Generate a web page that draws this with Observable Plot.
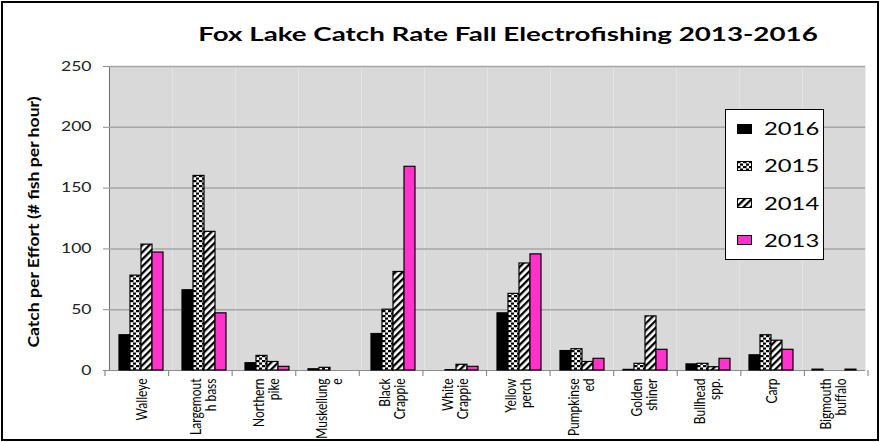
<!DOCTYPE html>
<html>
<head>
<meta charset="utf-8">
<script src="https://cdn.jsdelivr.net/npm/d3@7"></script>
<script src="https://cdn.jsdelivr.net/npm/@observablehq/plot@0.6"></script>
<style>
  body { margin: 0; background: #fff; width: 880px; height: 442px; overflow: hidden; position: relative; font-family: Lato, "Open Sans", sans-serif; }
  #frame { position: absolute; left: 1px; top: 1px; width: 878px; height: 440px; box-sizing: border-box; border: 2px solid #000; }
  #plot { position: absolute; left: 0; top: 0; }
  #title { position: absolute; left: 508px; top: 24px; white-space: nowrap; font: bold 19px Lato, sans-serif; line-height: 19px; transform: translateX(-50%) scaleX(1.46); color: #000; }
  #ytitle { position: absolute; left: 33px; top: 222px; white-space: nowrap; font: bold 16px Lato, sans-serif; line-height: 16px; transform: translate(-50%, -50%) rotate(-90deg) scaleX(1.1); color: #000; }
  #legend { position: absolute; left: 725px; top: 109px; width: 99px; height: 151px; box-sizing: border-box; border: 1px solid #000; background: #fff; display: flex; flex-direction: column; }
  #legend .row { flex: 1; display: flex; align-items: center; }
  #legend svg { margin-left: 11px; display: block; }
  #legend span { display: inline-block; margin-left: 12px; font: 17px Lato, sans-serif; line-height: 17px; transform: scaleX(1.4); transform-origin: left center; color: #000; }
  svg [aria-label^="y-axis"] line, svg [aria-label^="y-axis"] path { stroke: #8c8c8c; }
  svg [aria-label^="y-axis"] text { fill: #222; }
</style>
</head>
<body>
<svg width="0" height="0" style="position:absolute">
  <defs>
    <pattern id="pat2015" width="6" height="5" patternUnits="userSpaceOnUse">
      <rect width="6" height="5" fill="#fff"></rect>
      <rect x="0" y="0" width="3.5" height="2.2" fill="#000"></rect>
      <rect x="3" y="2.5" width="3.5" height="2.2" fill="#000"></rect>
    </pattern>
    <pattern id="pat2014" width="5" height="5" patternUnits="userSpaceOnUse" patternTransform="rotate(45)">
      <rect width="5" height="5" fill="#fff"></rect>
      <rect x="0" y="0" width="2.3" height="5" fill="#000"></rect>
    </pattern>
  </defs>
</svg>
<div id="frame"></div>
<div id="plot"></div>
<div id="title">Fox Lake Catch Rate Fall Electrofishing 2013-2016</div>
<div id="ytitle">Catch per Effort (# fish per hour)</div>
<div id="legend"></div>
<script>
// ---- data ----
const species = ["Walleye", "Largemouth bass", "Northern pike", "Muskellunge", "Black Crappie", "White Crappie", "Yellow perch", "Pumpkinseed", "Golden shiner", "Bullhead spp.", "Carp", "Bigmouth buffalo"];
const speciesLabels = ["Walleye", "Largemout\nh bass", "Northern\npike", "Muskellung\ne", "Black\nCrappie", "White\nCrappie", "Yellow\nperch", "Pumpkinse\ned", "Golden\nshiner", "Bullhead\nspp.", "Carp", "Bigmouth\nbuffalo"];
const years = ["2016", "2015", "2014", "2013"];
const cpe2016 = [29, 66, 6, 1, 30, 0, 47, 16, 0.5, 5, 12.5, 0.7];
const cpe2015 = [78, 160, 12, 2.2, 50, 0.3, 63, 17.5, 5.5, 5.5, 29, 0];
const cpe2014 = [103.5, 114, 7, 0, 81, 4.7, 88, 7, 44.5, 2.7, 24.5, 0];
const cpe2013 = [97, 47, 3, 0, 167.5, 3, 95.5, 9.6, 17, 9.6, 17, 0.7];
const yTicks = [0, 50, 100, 150, 200, 250];

// ---- styles ----
const yearFill = {"2016": "#000000", "2015": "url(#pat2015)", "2014": "url(#pat2014)", "2013": "#ff33cc"};

const series = {"2016": cpe2016, "2015": cpe2015, "2014": cpe2014, "2013": cpe2013};
const rows = years.flatMap(yr => species.map((s, i) => ({species: s, year: yr, value: series[yr][i]})));

const plot = Plot.plot({
  width: 880,
  height: 442,
  marginTop: 66,
  marginBottom: 72,
  marginLeft: 105,
  marginRight: 12,
  style: {background: "transparent", fontFamily: "Lato, sans-serif", fontSize: "13px", color: "#000"},
  facet: {data: rows, x: "species"},
  fx: {domain: species, padding: 0, axis: null},
  x: {domain: years, paddingInner: 0, paddingOuter: 0.76, axis: null},
  y: {domain: [0, 250], ticks: yTicks, tickSize: 6, tickPadding: 12, label: null, line: true},
  color: {type: "identity"},
  marks: [
    Plot.frame({fill: "#d9d9d9", stroke: "none"}),
    Plot.ruleY(yTicks.slice(1), {stroke: "#a6a6a6", strokeWidth: 1.5}),
    Plot.ruleY([0], {stroke: "#8c8c8c", strokeWidth: 1.2}),
    Plot.barY(rows, {filter: d => d.value > 0, x: "year", y: "value", fill: d => yearFill[d.year], stroke: "#000", strokeWidth: 1.2}),
    Plot.text(rows, {
      filter: d => d.year === years[0],
      text: d => speciesLabels[species.indexOf(d.species)],
      frameAnchor: "bottom", rotate: -90, textAnchor: "end", lineAnchor: "middle",
      lineHeight: 1.2, dy: 8, fontSize: 12, fill: "#000"
    })
  ]
});
document.getElementById("plot").append(plot);

// stretch y tick labels horizontally like the original
d3.select(plot).selectAll('[aria-label^="y-axis"] text').each(function() {
  const w = this.getComputedTextLength();
  if (w > 0) { this.setAttribute("textLength", w * 1.35); this.setAttribute("lengthAdjust", "spacingAndGlyphs"); }
});
// thicken rotated category labels across (glyph height on screen x), keeping line spacing
const labelSet = new Set(speciesLabels.map(s => s.replace("\n", "")));
d3.select(plot).selectAll("text").each(function() {
  if (!labelSet.has(this.textContent)) return;
  const t = this.getAttribute("transform") || "";
  if (!t.includes("rotate")) return;
  this.setAttribute("transform", t + " scale(1,1.3)");
  d3.select(this).selectAll("tspan").each(function() {
    const dy = this.getAttribute("dy");
    if (dy && dy.endsWith("em")) this.setAttribute("dy", (parseFloat(dy) / 1.3) + "em");
    const y = this.getAttribute("y");
    if (y && y.endsWith("em")) this.setAttribute("y", (parseFloat(y) / 1.3) + "em");
  });
});

// category boundary ticks below the axis, from the library's fx and y scales
const fx = plot.scale("fx");
const ys = plot.scale("y");
const n = fx.domain.length;
const r0 = fx.range[0], r1 = fx.range[1];
const step = (r1 - r0) / n;
const yb = ys.range[0];
const tg = d3.select(plot).append("g").attr("stroke", "#8c8c8c").attr("stroke-width", 1.2);
d3.range(n + 1).forEach(i => {
  const xx = r0 + i * step;
  tg.append("line").attr("x1", xx).attr("x2", xx).attr("y1", yb).attr("y2", yb + 6);
});

// legend
const legend = d3.select("#legend");
years.forEach(yr => {
  const row = legend.append("div").attr("class", "row");
  const sw = row.append("svg").attr("width", 15).attr("height", 10);
  sw.append("rect").attr("x", 0.5).attr("y", 0.5).attr("width", 14).attr("height", 9)
    .attr("fill", yearFill[yr]).attr("stroke", "#000").attr("stroke-width", 1);
  row.append("span").text(yr);
});
</script>
</body>
</html>
